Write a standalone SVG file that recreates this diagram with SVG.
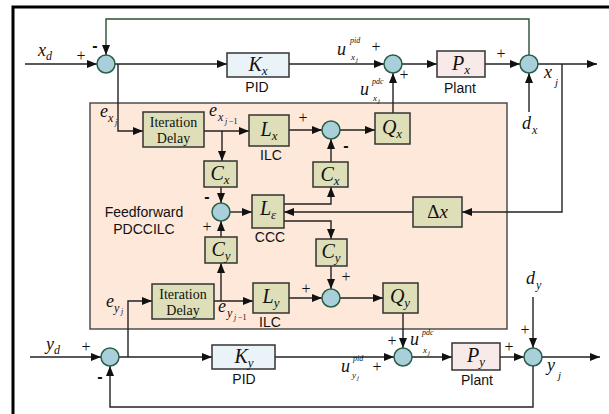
<svg xmlns="http://www.w3.org/2000/svg" width="609" height="414" viewBox="0 0 609 414">
<defs>
<marker id="ar" markerUnits="userSpaceOnUse" markerWidth="10" markerHeight="8" refX="10" refY="4" orient="auto">
<path d="M0,0 L10,4 L0,8 z" fill="#111"/>
</marker>
<style>
.ln{fill:none;stroke:#222;stroke-width:1.4;marker-end:url(#ar)}
.pl{fill:none;stroke:#222;stroke-width:1.4}
.gr{fill:none;stroke:#2a4f36;stroke-width:1.4;marker-end:url(#ar)}
.ol{fill:#dedfb8;stroke:#333;stroke-width:1.5}
.bl{fill:#eaf4f8;stroke:#333;stroke-width:1.5}
.pk{fill:#f9eaea;stroke:#333;stroke-width:1.5}
.sj{fill:#a9cfda;stroke:#2a5e48;stroke-width:1.5}
.m{font-family:"Liberation Serif",serif;font-style:italic;font-size:20px;fill:#111}
.ms{font-family:"Liberation Serif",serif;font-style:italic;fill:#111}
.s{font-family:"Liberation Sans",Arial,sans-serif;font-size:14px;fill:#111;text-anchor:middle}
.r{font-family:"Liberation Serif",serif;font-size:14px;fill:#111;text-anchor:middle}
.pm{font-family:"Liberation Serif",serif;font-size:16px;fill:#111;text-anchor:middle}
.mi{font-family:"Liberation Sans",Arial,sans-serif;font-size:16px;font-weight:bold;fill:#111;text-anchor:middle}
</style>
</defs>
<rect width="609" height="414" fill="#fff"/>
<path d="M13,414 V7 H609" fill="none" stroke="#000" stroke-width="3"/>
<rect id="ilc-region" x="90" y="103" width="417" height="226" fill="#fde8da" stroke="#444" stroke-width="1.4"/>

<g id="connectors">
<path class="ln" d="M25,64 H97"/>
<path class="ln" d="M115,64 H227"/>
<path class="gr" d="M529,55 V19 H106 V55"/>
<path class="ln" d="M289,64 H384"/>
<path class="ln" d="M402,64 H437"/>
<path class="ln" d="M485,64 H520"/>
<path class="ln" d="M538,64 H597"/>
<path class="ln" d="M529,112 V73"/>
<path class="ln" d="M393,113 V73"/>
<path class="ln" d="M562,64 V212 H462"/>
<path class="ln" d="M413,212 H284"/>
<path class="ln" d="M118,64 V131 H143"/>
<path class="ln" d="M204,131 H249"/>
<path class="ln" d="M222,131 V161"/>
<path class="ln" d="M221,187 V203"/>
<path class="ln" d="M230,212 H252"/>
<path class="ln" d="M284,204 H331 V187"/>
<path class="ln" d="M284,221 H331 V239"/>
<path class="ln" d="M331,162 V139"/>
<path class="ln" d="M289,130 H322"/>
<path class="ln" d="M340,130 H375"/>
<path class="ln" d="M331,266 V289"/>
<path class="ln" d="M289,298 H322"/>
<path class="ln" d="M340,298 H383"/>
<path class="ln" d="M403,313 V348"/>
<path class="ln" d="M221,237 V221"/>
<path class="ln" d="M221,301 V263"/>
<path class="ln" d="M128,357 V301 H152"/>
<path class="ln" d="M214,301 H253"/>
<path class="ln" d="M30,357 H101"/>
<path class="ln" d="M119,357 H212"/>
<path class="ln" d="M275,357 H394"/>
<path class="ln" d="M412,357 H452"/>
<path class="ln" d="M500,357 H524"/>
<path class="ln" d="M542,357 H600"/>
<path class="ln" d="M533,297 V348"/>
<path class="ln" d="M533,366 V407 H110 V366"/>
</g>

<g id="sum1"><circle class="sj" cx="106" cy="64" r="9"/></g>
<g id="sum2"><circle class="sj" cx="393" cy="64" r="9"/></g>
<g id="sum3"><circle class="sj" cx="529" cy="64" r="9"/></g>
<g id="sumx"><circle class="sj" cx="331" cy="130" r="9"/></g>
<g id="sumc"><circle class="sj" cx="221" cy="212" r="9"/></g>
<g id="sumy"><circle class="sj" cx="331" cy="298" r="9"/></g>
<g id="sumb1"><circle class="sj" cx="110" cy="357" r="9"/></g>
<g id="sumb2"><circle class="sj" cx="403" cy="357" r="9"/></g>
<g id="sumb3"><circle class="sj" cx="533" cy="357" r="9"/></g>

<g id="kx"><rect class="bl" x="227" y="53" width="62" height="24"/>
<text class="m" x="258" y="71" text-anchor="middle">K<tspan font-size="13" dy="4">x</tspan></text>
<text class="s" x="257" y="92">PID</text></g>
<g id="px"><rect class="pk" x="437" y="51" width="48" height="26"/>
<text class="m" x="461" y="70" text-anchor="middle">P<tspan font-size="13" dy="4">x</tspan></text>
<text class="s" x="460" y="93">Plant</text></g>
<g id="ky"><rect class="bl" x="212" y="345" width="63" height="24"/>
<text class="m" x="244" y="363" text-anchor="middle">K<tspan font-size="13" dy="4">y</tspan></text>
<text class="s" x="244" y="384">PID</text></g>
<g id="py"><rect class="pk" x="452" y="343" width="48" height="27"/>
<text class="m" x="476" y="362" text-anchor="middle">P<tspan font-size="13" dy="4">y</tspan></text>
<text class="s" x="477" y="385">Plant</text></g>

<g id="delayx"><rect class="ol" x="143" y="112" width="61" height="35"/>
<text class="r" x="173.5" y="127">Iteration</text><text class="r" x="173.5" y="143">Delay</text></g>
<g id="delayy"><rect class="ol" x="152" y="284" width="62" height="35"/>
<text class="r" x="183" y="299">Iteration</text><text class="r" x="183" y="315">Delay</text></g>
<g id="lx"><rect class="ol" x="249" y="115" width="40" height="31"/>
<text class="m" x="269" y="136" text-anchor="middle">L<tspan font-size="13" dy="4">x</tspan></text>
<text class="s" x="271" y="160">ILC</text></g>
<g id="ly"><rect class="ol" x="253" y="283" width="36" height="30"/>
<text class="m" x="271" y="303" text-anchor="middle">L<tspan font-size="13" dy="4">y</tspan></text>
<text class="s" x="270" y="327">ILC</text></g>
<g id="qx"><rect class="ol" x="375" y="113" width="35" height="31"/>
<text class="m" x="392" y="134" text-anchor="middle">Q<tspan font-size="13" dy="4">x</tspan></text></g>
<g id="qy"><rect class="ol" x="383" y="283" width="35" height="30"/>
<text class="m" x="400" y="303" text-anchor="middle">Q<tspan font-size="13" dy="4">y</tspan></text></g>
<g id="cxl"><rect class="ol" x="204" y="161" width="33" height="26"/>
<text class="m" x="220" y="180" text-anchor="middle">C<tspan font-size="13" dy="4">x</tspan></text></g>
<g id="cxr"><rect class="ol" x="313" y="162" width="35" height="25"/>
<text class="m" x="330" y="181" text-anchor="middle">C<tspan font-size="13" dy="4">x</tspan></text></g>
<g id="cyl"><rect class="ol" x="205" y="237" width="32" height="26"/>
<text class="m" x="221" y="256" text-anchor="middle">C<tspan font-size="13" dy="4">y</tspan></text></g>
<g id="cyr"><rect class="ol" x="316" y="239" width="31" height="27"/>
<text class="m" x="331" y="258" text-anchor="middle">C<tspan font-size="13" dy="4">y</tspan></text></g>
<g id="leps"><rect class="ol" x="252" y="195" width="32" height="33"/>
<text class="m" x="268" y="215" text-anchor="middle">L<tspan font-size="13" dy="4">ε</tspan></text>
<text class="s" x="270" y="242">CCC</text></g>
<g id="dx"><rect class="ol" x="413" y="197" width="49" height="30"/>
<text x="437.5" y="218" font-family="Liberation Serif,serif" font-size="19" fill="#111" text-anchor="middle">Δ<tspan font-style="italic">x</tspan></text></g>

<g id="labels">
<text class="s" x="144" y="217">Feedforward</text>
<text class="s" x="144" y="234">PDCCILC</text>

<text class="ms" x="38" y="56" font-size="18">x<tspan font-size="12" dy="4">d</tspan></text>
<text class="ms" x="46" y="350" font-size="18">y<tspan font-size="12" dy="4">d</tspan></text>
<text class="ms" x="544" y="78" font-size="18">x</text><text class="ms" x="555" y="86" font-size="11">j</text>
<text class="ms" x="547" y="371" font-size="18">y</text><text class="ms" x="558" y="379" font-size="11">j</text>
<text class="ms" x="522" y="129" font-size="18">d</text><text class="ms" x="532" y="134" font-size="12">x</text>
<text class="ms" x="526" y="284" font-size="18">d</text><text class="ms" x="536" y="289" font-size="12">y</text>

<text class="ms" x="337" y="55" font-size="18">u</text><text class="ms" x="350" y="43" font-size="8">pid</text><text class="ms" x="351" y="60" font-size="9">x</text><text class="ms" x="356" y="62" font-size="7">j</text>
<text class="ms" x="360" y="95" font-size="18">u</text><text class="ms" x="372" y="84" font-size="8">pdc</text><text class="ms" x="373" y="101" font-size="9">x</text><text class="ms" x="378" y="103" font-size="7">j</text>
<text class="ms" x="410" y="345" font-size="18">u</text><text class="ms" x="422" y="335" font-size="8">pdc</text><text class="ms" x="423" y="353" font-size="9">x</text><text class="ms" x="428" y="355" font-size="7">j</text>
<text class="ms" x="341" y="372" font-size="18">u</text><text class="ms" x="353" y="361" font-size="8">pid</text><text class="ms" x="352" y="378" font-size="9">y</text><text class="ms" x="357" y="380" font-size="7">j</text>

<text class="ms" x="100" y="117" font-size="18">e</text><text class="ms" x="108" y="122" font-size="12">x</text><text class="ms" x="115" y="125" font-size="8">j</text>
<text class="ms" x="209" y="116" font-size="18">e</text><text class="ms" x="218" y="121" font-size="12">x</text><text class="ms" x="225" y="124" font-size="8">j</text><text x="229" y="124" font-family="Liberation Serif,serif" font-size="8" fill="#111">−1</text>
<text class="ms" x="106" y="307" font-size="18">e</text><text class="ms" x="114" y="312" font-size="12">y</text><text class="ms" x="121" y="314" font-size="8">j</text>
<text class="ms" x="218" y="312" font-size="18">e</text><text class="ms" x="227" y="317" font-size="12">y</text><text class="ms" x="234" y="320" font-size="8">j</text><text x="238" y="320" font-family="Liberation Serif,serif" font-size="8" fill="#111">−1</text>
</g>

<g id="signs">
<text class="pm" x="81" y="61">+</text>
<text class="mi" x="95" y="51">-</text>
<text class="pm" x="376" y="52">+</text>
<text class="pm" x="404" y="80">+</text>
<text class="pm" x="501" y="59">+</text>
<text class="pm" x="303" y="123">+</text>
<text class="mi" x="346" y="151">-</text>
<text class="mi" x="207" y="202">-</text>
<text class="pm" x="207" y="232">+</text>
<text class="pm" x="346" y="282">+</text>
<text class="pm" x="306" y="294">+</text>
<text class="pm" x="86" y="352">+</text>
<text class="mi" x="100" y="382">-</text>
<text class="pm" x="392" y="346">+</text>
<text class="pm" x="377" y="372">+</text>
<text class="pm" x="509" y="352">+</text>
<text class="pm" x="525" y="335">+</text>
</g>
</svg>
